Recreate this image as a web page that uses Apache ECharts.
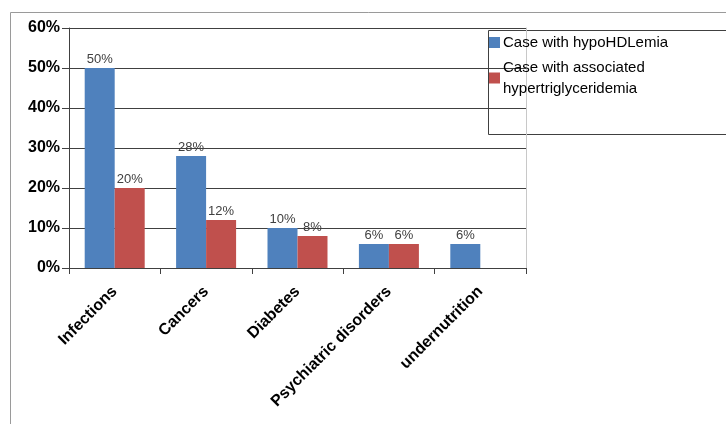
<!DOCTYPE html>
<html>
<head>
<meta charset="utf-8">
<script src="https://cdn.jsdelivr.net/npm/echarts@6/dist/echarts.min.js"></script>
<style>
html,body{margin:0;padding:0;background:#fff;}
#chart{width:726px;height:424px;}
</style>
</head>
<body>
<div id="chart"></div>
<script>
const categories = ['Infections', 'Cancers', 'Diabetes', 'Psychiatric disorders', 'undernutrition'];
const seriesNames = ['Case with hypoHDLemia', 'Case with associated hypertriglyceridemia'];
const hypoHDL = [50, 28, 10, 6, 6];
const hyperTG = [20, 12, 8, 6, null];
const yTicks = [0, 10, 20, 30, 40, 50, 60];

const chart = echarts.init(document.getElementById('chart'), null, {renderer: 'canvas'});
const labelStyle = {
  show: true, position: 'top', distance: 2,
  fontFamily: 'Liberation Sans', fontSize: 13, color: '#404040',
  formatter: p => p.value + '%'
};
chart.setOption({
  animation: false,
  backgroundColor: '#fff',
  grid: {left: 69, right: 200, top: 28, bottom: 156, containLabel: false},
  legend: {
    orient: 'vertical', left: 489, top: 31, padding: 0,
    itemWidth: 11, itemHeight: 11, itemGap: 2,
    icon: 'rect',
    textStyle: {fontFamily: 'Liberation Sans', fontSize: 15, color: '#000', lineHeight: 21, padding: [2, 0, 0, -2]},
    formatter: n => n === seriesNames[1] ? 'Case with associated\nhypertriglyceridemia' : n,
    data: seriesNames
  },
  graphic: [
    {type: 'rect', silent: true, z: 0, shape: {x: 10.5, y: 12.5, width: 800, height: 500},
     style: {fill: 'none', stroke: '#9a9a9a', lineWidth: 1}},
    {type: 'rect', silent: true, z: 0, shape: {x: 488.5, y: 30.5, width: 300, height: 104},
     style: {fill: 'none', stroke: '#404040', lineWidth: 1}}
  ],
  xAxis: {
    type: 'category', data: categories,
    axisLine: {lineStyle: {color: '#404040', width: 1}},
    axisTick: {show: true, length: 6, lineStyle: {color: '#404040'}},
    axisLabel: {rotate: 45, interval: 0, margin: 21, fontFamily: 'Liberation Sans', fontWeight: 'bold', fontSize: 16, color: '#000'}
  },
  yAxis: [{
    type: 'value', min: 0, max: 60, interval: 10,
    axisLine: {show: true, lineStyle: {color: '#404040', width: 1}},
    axisTick: {show: true, length: 7, lineStyle: {color: '#404040'}},
    splitLine: {show: true, lineStyle: {color: '#404040', width: 1}},
    axisLabel: {margin: 9, fontFamily: 'Liberation Sans', fontWeight: 'bold', fontSize: 16, color: '#000',
      formatter: v => yTicks.includes(v) ? v + '%' : ''}
  }, {
    type: 'value', min: 0, max: 60, interval: 10, position: 'right',
    axisLine: {show: true, lineStyle: {color: '#c8c8c8', width: 1}},
    axisTick: {show: false}, axisLabel: {show: false}, splitLine: {show: false}
  }],
  series: [
    {name: seriesNames[0], type: 'bar', data: hypoHDL, barWidth: 30, barGap: '0%',
     itemStyle: {color: '#4F81BD'}, label: labelStyle},
    {name: seriesNames[1], type: 'bar', data: hyperTG, barWidth: 30, barGap: '0%',
     itemStyle: {color: '#C0504D'}, label: labelStyle}
  ]
});
</script>
</body>
</html>
